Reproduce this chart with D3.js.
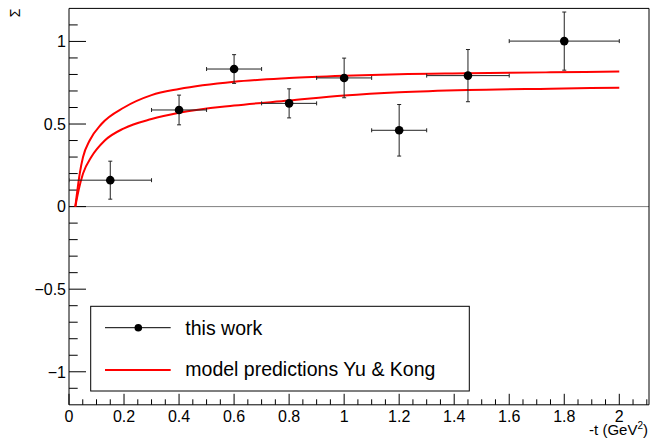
<!DOCTYPE html>
<html>
<head>
<meta charset="utf-8">
<script src="https://cdn.jsdelivr.net/npm/d3@7"></script>
<style>
  html, body { margin: 0; padding: 0; background: #fff; }
  svg { display: block; font-family: "Liberation Sans", Arial, Helvetica, sans-serif; }
</style>
</head>
<body>
<svg id="chart" width="650" height="442"></svg>
<script>
// Measured beam asymmetry Σ versus -t
const tValues   = [0.15, 0.40, 0.60, 0.80, 1.00, 1.20, 1.45, 1.80];
const tErrors   = [0.15, 0.10, 0.10, 0.10, 0.10, 0.10, 0.15, 0.20];
const sigmaVals = [0.160, 0.585, 0.833, 0.625, 0.779, 0.462, 0.793, 1.002];
const sigmaErrs = [0.115, 0.090, 0.087, 0.088, 0.120, 0.156, 0.158, 0.176];

// Model curves (Yu & Kong), sampled along -t
const modelUpperT = [0.023, 0.039, 0.051, 0.075, 0.118, 0.20, 0.30, 0.40, 0.60, 0.80, 1.00, 1.20, 1.45, 1.75, 2.00];
const modelUpperS = [0.000, 0.200, 0.300, 0.400, 0.500, 0.600, 0.675, 0.712, 0.756, 0.778, 0.792, 0.802, 0.807, 0.813, 0.818];
const modelLowerT = [0.023, 0.035, 0.051, 0.081, 0.130, 0.20, 0.30, 0.40, 0.60, 0.80, 1.00, 1.20, 1.45, 1.75, 2.00];
const modelLowerS = [0.000, 0.100, 0.200, 0.300, 0.400, 0.474, 0.530, 0.568, 0.612, 0.642, 0.672, 0.692, 0.706, 0.714, 0.720];

// Axis ticks
const xMajorTicks = [0, 0.2, 0.4, 0.6, 0.8, 1.0, 1.2, 1.4, 1.6, 1.8, 2.0];
const yMajorTicks = [-1, -0.5, 0, 0.5, 1];
const yTickLabels = ["\u22121", "\u22120.5", "0", "0.5", "1"];

const legendLabels = ["this work", "model predictions Yu & Kong"];

const svg = d3.select("#chart");
const plotLeft = 69, plotRight = 649, plotTop = 8.4, plotBottom = 404.8;

const x = d3.scaleLinear().domain([0, 2.108]).range([plotLeft, plotRight]);
const y = d3.scaleLinear().domain([-1.2, 1.2]).range([plotBottom, plotTop]);

// Clip for marks inside the frame
svg.append("clipPath").attr("id", "plotClip")
  .append("rect").attr("x", plotLeft).attr("y", plotTop)
  .attr("width", plotRight - plotLeft).attr("height", plotBottom - plotTop);

// Zero line
svg.append("line")
  .attr("x1", plotLeft).attr("x2", plotRight)
  .attr("y1", y(0)).attr("y2", y(0))
  .attr("stroke", "#808080").attr("stroke-width", 1);

// Frame (top and right)
svg.append("path")
  .attr("d", `M${plotLeft},${plotTop}H${plotRight}V${plotBottom}`)
  .attr("fill", "none").attr("stroke", "#000").attr("stroke-width", 1);

// Y axis: ticks point into the plot
const yMinor = d3.range(-11, 12).map(i => i / 10).filter(v => !yMajorTicks.some(m => Math.abs(m - v) < 1e-9));
const yAxis = svg.append("g").attr("transform", `translate(${plotLeft},0)`);
yAxis.append("line").attr("x1", 0).attr("x2", 0).attr("y1", plotTop).attr("y2", plotBottom)
  .attr("stroke", "#000").attr("stroke-width", 1);
yAxis.selectAll(".ymaj").data(yMajorTicks).join("line")
  .attr("x1", 0).attr("x2", 17).attr("y1", d => y(d)).attr("y2", d => y(d))
  .attr("stroke", "#000").attr("stroke-width", 1);
yAxis.selectAll(".ymin").data(yMinor).join("line")
  .attr("x1", 0).attr("x2", 8.7).attr("y1", d => y(d)).attr("y2", d => y(d))
  .attr("stroke", "#000").attr("stroke-width", 1);
yAxis.selectAll("text").data(yMajorTicks).join("text")
  .attr("x", -3).attr("y", d => y(d)).attr("dy", "0.36em")
  .attr("text-anchor", "end").attr("font-size", 16).attr("fill", "#000")
  .text((d, i) => yTickLabels[i]);

// X axis: ticks point into the plot
const xMinor = d3.range(0, 43).map(i => i * 0.05)
  .filter(v => v <= 2.108 && !xMajorTicks.some(m => Math.abs(m - v) < 1e-9));
const xAxis = svg.append("g").attr("transform", `translate(0,${plotBottom})`);
xAxis.append("line").attr("x1", plotLeft).attr("x2", plotRight).attr("y1", 0).attr("y2", 0)
  .attr("stroke", "#000").attr("stroke-width", 1);
xAxis.selectAll(".xmaj").data(xMajorTicks).join("line")
  .attr("x1", d => x(d)).attr("x2", d => x(d)).attr("y1", 0).attr("y2", -11)
  .attr("stroke", "#000").attr("stroke-width", 1);
xAxis.selectAll(".xmin").data(xMinor).join("line")
  .attr("x1", d => x(d)).attr("x2", d => x(d)).attr("y1", 0).attr("y2", -5.5)
  .attr("stroke", "#000").attr("stroke-width", 1);
xAxis.selectAll("text").data(xMajorTicks).join("text")
  .attr("x", d => x(d)).attr("y", 17.5)
  .attr("text-anchor", "middle").attr("font-size", 16).attr("fill", "#000")
  .text(d => d3.format("~g")(d));

// Axis titles
const xTitle = svg.append("text")
  .attr("x", 648).attr("y", 434.5).attr("text-anchor", "end")
  .attr("font-size", 15).attr("fill", "#000");
xTitle.append("tspan").text("-t (GeV");
xTitle.append("tspan").attr("font-size", 10).attr("dy", -6).text("2");
xTitle.append("tspan").attr("dy", 6).text(")");

svg.append("text")
  .attr("transform", "translate(19.5,8.5) rotate(-90)")
  .attr("text-anchor", "end").attr("font-size", 14).attr("fill", "#000")
  .text("\u03A3");

// Model curves
const plot = svg.append("g").attr("clip-path", "url(#plotClip)");
const line = d3.line().x(d => x(d[0])).y(d => y(d[1])).curve(d3.curveMonotoneX);
[[modelUpperT, modelUpperS], [modelLowerT, modelLowerS]].forEach(([ts, ss]) => {
  plot.append("path")
    .datum(ts.map((t, i) => [t, ss[i]]))
    .attr("d", line)
    .attr("fill", "none").attr("stroke", "#ff0000").attr("stroke-width", 2);
});

// Data points with error bars
const pts = tValues.map((t, i) => ({ t, dt: tErrors[i], s: sigmaVals[i], ds: sigmaErrs[i] }));
const cap = 2;
const g = plot.selectAll(".pt").data(pts).join("g");
g.append("line")
  .attr("x1", d => x(d.t - d.dt)).attr("x2", d => x(d.t + d.dt))
  .attr("y1", d => y(d.s)).attr("y2", d => y(d.s))
  .attr("stroke", "#222").attr("stroke-width", 1);
g.append("line")
  .attr("x1", d => x(d.t)).attr("x2", d => x(d.t))
  .attr("y1", d => y(d.s - d.ds)).attr("y2", d => y(d.s + d.ds))
  .attr("stroke", "#222").attr("stroke-width", 1);
// caps
g.each(function(d) {
  const s = d3.select(this);
  [d.t - d.dt, d.t + d.dt].forEach(v => s.append("line")
    .attr("x1", x(v)).attr("x2", x(v)).attr("y1", y(d.s) - cap).attr("y2", y(d.s) + cap)
    .attr("stroke", "#222").attr("stroke-width", 1));
  [d.s - d.ds, d.s + d.ds].forEach(v => s.append("line")
    .attr("x1", x(d.t) - cap).attr("x2", x(d.t) + cap).attr("y1", y(v)).attr("y2", y(v))
    .attr("stroke", "#222").attr("stroke-width", 1));
});
g.append("circle")
  .attr("cx", d => x(d.t)).attr("cy", d => y(d.s)).attr("r", 4.3)
  .attr("fill", "#000");

// Legend
const lg = svg.append("g");
lg.append("rect")
  .attr("x", 90.7).attr("y", 306.3).attr("width", 378.6).attr("height", 84.7)
  .attr("fill", "#fff").attr("stroke", "#000").attr("stroke-width", 1);
lg.append("line").attr("x1", 105).attr("x2", 170.7).attr("y1", 327.7).attr("y2", 327.7)
  .attr("stroke", "#000").attr("stroke-width", 1);
lg.append("circle").attr("cx", 138.3).attr("cy", 327.7).attr("r", 3.8).attr("fill", "#000");
lg.append("line").attr("x1", 105).attr("x2", 170.7).attr("y1", 370).attr("y2", 370)
  .attr("stroke", "#ff0000").attr("stroke-width", 2);
lg.selectAll("text").data(legendLabels).join("text")
  .attr("x", 185.3).attr("y", (d, i) => i === 0 ? 334.5 : 376.3)
  .attr("font-size", 19.5).attr("fill", "#000")
  .text(d => d);
</script>
</body>
</html>
